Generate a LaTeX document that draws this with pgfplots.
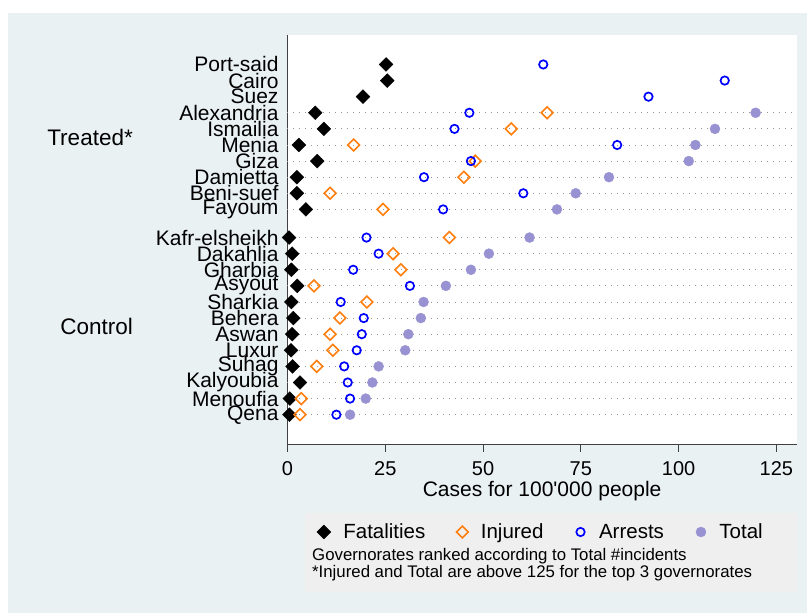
\documentclass[border=0pt]{standalone}
\usepackage{fontspec}
\setmainfont{Liberation Sans}[Ligatures=TeXOff]
\usepackage{pgfplots}
\usepackage{pgfplotstable}
\pgfplotsset{compat=1.18}

\definecolor{bgout}{RGB}{234,241,243}
\definecolor{legbg}{RGB}{239,239,239}
\definecolor{injorange}{RGB}{255,127,14}
\definecolor{arrblue}{RGB}{0,0,255}
\definecolor{totlav}{RGB}{152,146,211}
\definecolor{gridgray}{RGB}{150,150,150}
\newcommand\fs[1]{\fontsize{#1}{#1}\selectfont}

% rows: treated governorates on top, control below
\pgfplotstableread{
pos   name          fat   inj   arr   tot
21.75 Port-said     25.2  nan   65.4  nan
20.75 Cairo         25.5  nan   111.8 nan
19.75 Suez          19.3  nan   92.3  nan
18.75 Alexandria    7.1   66.4  46.5  119.7
17.75 Ismailia      9.3   57.2  42.7  109.3
16.75 Menia         2.9   16.9  84.3  104.3
15.75 Giza          7.6   48.0  46.9  102.6
14.75 Damietta      2.4   45.1  34.9  82.2
13.75 Beni-suef     2.4   10.9  60.3  73.7
12.75 Fayoum        4.7   24.4  39.8  68.9
11    Kafr-elsheikh 0.4   41.4  20.2  61.9
10    Dakahlia      1.2   27.0  23.3  51.5
9     Gharbia       1.0   29.0  16.8  46.9
8     Asyout        2.5   6.8   31.3  40.5
7     Sharkia       1.0   20.3  13.6  34.8
6     Behera        1.5   13.4  19.5  34.1
5     Aswan         1.2   10.9  19.0  30.9
4     Luxur         0.9   11.6  17.7  30.1
3     Suhag         1.3   7.5   14.5  23.3
2     Kalyoubia     3.2   nan   15.4  21.7
1     Menoufia      0.6   3.5   16.0  20.0
0     Qena          0.5   3.2   12.5  16.0
}\govdata

\begin{document}
\begin{tikzpicture}
\fill[white] (-287.5pt,-169pt) rectangle (519.5pt,444pt);
\fill[bgout] (-279.5pt,-169pt) rectangle (519.5pt,431pt);
\fill[legbg] (17.5pt,-69pt) rectangle (509.5pt,-148pt);
\begin{axis}[
  at={(0pt,0pt)}, anchor=south west,
  scale only axis, width=509.2pt, height=409pt,
  xmin=0, xmax=130.2, ymin=-1.82, ymax=23.58,
  clip=false,
  axis x line*=bottom, axis y line*=left,
  axis line style={-, black!75, line width=0.8pt},
  axis background/.style={fill=white},
  xtick={0,25,50,75,100,125},
  tick align=outside, major tick length=7.7pt,
  xtick style={black!75, line width=0.8pt},
  ytick style={draw=none},
  ytick={21.75,20.75,19.75,18.75,17.75,16.75,15.75,14.75,13.75,12.75,11,10,9,8,7,6,5,4,3,2,1,0},
  yticklabels from table={\govdata}{name},
  extra y ticks={18.75,17.75,16.75,15.75,14.75,13.75,12.75,11,10,9,8,7,6,5,4,3,2,1,0},
  extra y tick labels={},
  extra y tick style={grid=major, tick style={draw=none}},
  major grid style={gridgray, line width=0.8pt, dash pattern=on 0.8pt off 5.2pt},
  /pgf/number format/assume math mode=true,
  xticklabel style={font=\fs{20}, inner sep=0pt, anchor=north, yshift=-10pt},
  yticklabel style={font=\fs{21}, inner sep=0pt, anchor=east, xshift=-1.1pt},
  xlabel={Cases for 100'000 people},
  xlabel style={font=\fs{21}, at={(axis description cs:0.5,-0.114)}, anchor=center},
  legend columns=4,
  legend image code/.code={\path[draw=none, fill=none] (-6pt,-6pt) rectangle (6pt,6pt); \draw plot coordinates {(0pt,0pt)};},
  legend style={at={(rel axis cs:0.0575,-0.2152)}, anchor=west, draw=none, fill=none,
    inner sep=0pt, font=\fs{20.5}, nodes={inner sep=0pt},
    /tikz/every odd column/.append style={column sep=12.5pt},
    /tikz/every even column/.append style={column sep=31pt}},
]
\addplot[only marks, mark=square*, mark size=4.9pt,
  mark options={rotate=45, fill=black, draw=black}]
  table[x=fat, y=pos] {\govdata};
\addlegendentry{Fatalities}
\addplot[only marks, mark=square, mark size=4.15pt,
  mark options={rotate=45, draw=injorange, line width=1.6pt}]
  table[x=inj, y=pos] {\govdata};
\addlegendentry{Injured}
\addplot[only marks, mark=o, mark size=4.2pt,
  mark options={draw=arrblue, line width=1.7pt}]
  table[x=arr, y=pos] {\govdata};
\addlegendentry{Arrests}
\addplot[only marks, mark=*, mark size=5pt,
  mark options={draw=totlav, fill=totlav}]
  table[x=tot, y=pos] {\govdata};
\addlegendentry{Total}
\end{axis}
\node[anchor=east, inner sep=0pt, font=\fs{22.5}] at (-154.5pt,307pt) {Treated*};
\node[anchor=east, inner sep=0pt, font=\fs{22.5}] at (-154.5pt,118pt) {Control};
\node[anchor=west, inner sep=0pt, font=\fs{16.8}] at (24.5pt,-112pt) {Governorates ranked according to Total \#incidents};
\node[anchor=west, inner sep=0pt, font=\fs{16.8}] at (24.5pt,-129pt) {*Injured and Total are above 125 for the top 3 governorates};
\end{tikzpicture}
\end{document}
